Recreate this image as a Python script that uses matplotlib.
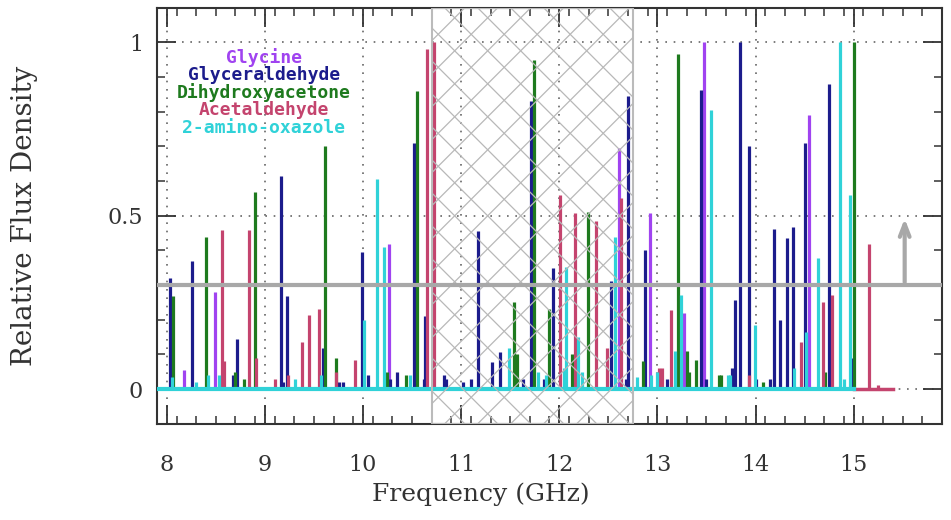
import matplotlib
matplotlib.use('Agg')
import matplotlib.pyplot as plt
import numpy as np
from matplotlib.patches import Rectangle

plt.rcParams['font.family'] = ['DejaVu Serif']

# 谱线数据：频率 (GHz) 与相对流量密度
glycine_f = [8.18, 8.49, 10.27, 12.61, 12.92, 13.27, 13.47, 14.55]
glycine_h = [0.055, 0.28, 0.42, 0.695, 0.508, 0.22, 1.0, 0.79]

glyceraldehyde_f = [8.03, 8.26, 8.68, 8.72, 9.16, 9.18, 9.23, 9.59, 9.76, 9.80, 9.99, 10.05,
                    10.28, 10.35, 10.52, 10.62, 10.635, 10.83, 10.85, 11.02, 11.10, 11.17,
                    11.31, 11.40, 11.63, 11.71, 11.84, 11.94, 12.53, 12.68, 12.70, 12.87,
                    13.10, 13.44, 13.50, 13.76, 13.79, 13.84, 13.93, 14.0, 14.15, 14.19,
                    14.25, 14.32, 14.38, 14.50, 14.75, 14.98]
glyceraldehyde_h = [0.32, 0.37, 0.04, 0.145, 0.615, 0.02, 0.27, 0.12, 0.02, 0.02, 0.395, 0.04,
                    0.03, 0.05, 0.71, 0.03, 0.21, 0.04, 0.03, 0.02, 0.03, 0.457,
                    0.077, 0.107, 0.03, 0.83, 0.03, 0.35, 0.313, 0.03, 0.845, 0.40,
                    0.03, 0.862, 0.03, 0.06, 0.257, 1.0, 0.70, 0.03, 0.03, 0.462,
                    0.198, 0.435, 0.467, 0.71, 0.879, 0.09]

dha_f = [8.06, 8.40, 8.70, 8.79, 8.90, 9.61, 9.72, 10.24, 10.44, 10.55, 11.54, 11.57,
         11.74, 11.90, 12.13, 12.29, 12.85, 13.21, 13.30, 13.32, 13.39, 13.63, 13.65,
         14.08, 14.71, 15.00]
dha_h = [0.27, 0.44, 0.05, 0.03, 0.57, 0.70, 0.09, 0.05, 0.04, 0.86, 0.25, 0.10,
         0.948, 0.23, 0.10, 0.51, 0.08, 0.968, 0.11, 0.05, 0.085, 0.04, 0.04,
         0.02, 0.05, 1.0]

acetaldehyde_f = [8.56, 8.58, 8.84, 8.91, 9.10, 9.24, 9.38, 9.45, 9.55, 9.72, 9.92,
                  10.65, 10.72, 12.01, 12.16, 12.37, 12.49, 12.63, 13.02, 13.05, 13.14,
                  13.93, 14.46, 14.69, 14.78, 15.16, 15.25]
acetaldehyde_h = [0.46, 0.08, 0.46, 0.09, 0.03, 0.04, 0.135, 0.215, 0.23, 0.05, 0.085,
                  0.98, 1.0, 0.56, 0.508, 0.484, 0.12, 0.55, 0.06, 0.06, 0.228,
                  0.04, 0.137, 0.252, 0.271, 0.42, 0.012]

oxazole_f = [8.05, 8.30, 8.42, 8.53, 9.31, 9.57, 10.01, 10.14, 10.21, 10.48, 11.49, 11.78,
             11.87, 12.05, 12.07, 12.19, 12.23, 12.57, 12.79, 12.94, 13.00, 13.18, 13.24,
             13.55, 13.72, 13.74, 13.99, 14.39, 14.51, 14.64, 14.86, 14.90, 14.96]
oxazole_h = [0.035, 0.02, 0.04, 0.04, 0.03, 0.04, 0.2, 0.607, 0.41, 0.04, 0.12, 0.05,
             0.04, 0.06, 0.353, 0.15, 0.05, 0.44, 0.035, 0.04, 0.05, 0.11, 0.272,
             0.806, 0.04, 0.04, 0.185, 0.06, 0.166, 0.378, 1.0, 0.03, 0.56]

names = ['Glycine', 'Glyceraldehyde', 'Dihydroxyacetone', 'Acetaldehyde', '2-amino-oxazole']
colors = ['#a043f0', '#1c1c8c', '#1e7a1e', '#c4446e', '#30d2d8']

fig = plt.figure(figsize=(9.51, 5.2), dpi=100)
ax = fig.add_axes([0.165, 0.185, 0.8255, 0.8])
xmin, xmax, ymin, ymax = 7.9, 15.9, -0.1, 1.1
ax.set_xlim(xmin, xmax)
ax.set_ylim(ymin, ymax)

# 网格线
for gx in range(8, 16):
    ax.axvline(gx, color='#666666', lw=1.2, ls=(0, (1, 4)), zorder=1)
for gy in [0, 0.5, 1.0]:
    ax.axhline(gy, color='#666666', lw=1.2, ls=(0, (1, 4)), zorder=1)

# 各分子谱线
series = [(glycine_f, glycine_h), (glyceraldehyde_f, glyceraldehyde_h), (dha_f, dha_h),
          (acetaldehyde_f, acetaldehyde_h), (oxazole_f, oxazole_h)]
for (f, h), c in zip(series, colors):
    ax.vlines(f, 0, h, color=c, lw=2.3, zorder=3)

# 基线
ax.plot([15.0, 15.4], [0, 0], color=colors[3], lw=2.5, zorder=3)
ax.plot([xmin, 15.0], [0, 0], color=colors[4], lw=3, zorder=4)

# 阴影区域
band_lo, band_hi = 10.7, 12.75
rect = Rectangle((band_lo, ymin), band_hi - band_lo, ymax - ymin, fill=False,
                 edgecolor='#bbbbbb', lw=1.5, zorder=5)
ax.add_patch(rect)
px_x = 0.8255 * 951 / (xmax - xmin)
px_y = 0.8 * 520 / (ymax - ymin)
step = 33 / px_x
span = (ymax - ymin) * px_y / px_x
for x0 in np.arange(band_lo - span, band_hi + span, step):
    for yy in ([ymin, ymax], [ymax, ymin]):
        ln, = ax.plot([x0, x0 + span], yy, color='#b8b8b8', lw=0.9, zorder=5)
        ln.set_clip_path(rect)

# 阈值线与箭头
ax.axhline(0.3, color='#a8a8a8', lw=3, zorder=6)
ax.annotate('', xy=(15.52, 0.5), xytext=(15.52, 0.3),
            arrowprops=dict(arrowstyle='->,head_length=0.9,head_width=0.35',
                            color='#a8a8a8', lw=3), zorder=6)

# 图例文字
leg_y = [0.957, 0.905, 0.855, 0.805, 0.752]
for name, c, yy in zip(names, colors, leg_y):
    ax.text(8.99, yy, name, color=c, ha='center', va='center', fontsize=13,
            fontweight='bold', family='DejaVu Sans Mono', zorder=7)

# 刻度
ax.set_xticks(range(8, 16))
ax.set_xticks(np.arange(7.9, 15.95, 0.2), minor=True)
ax.set_yticks([0, 0.5, 1])
ax.set_yticklabels(['0', '0.5', '1'])
ax.set_yticks(np.arange(-0.1, 1.15, 0.1), minor=True)
ax.tick_params(which='both', direction='in', top=True, right=True, colors='#333333',
               labelcolor='#333333', labelsize=16)
ax.tick_params(which='major', length=14, width=1.3)
ax.tick_params(which='minor', length=6, width=1.1)
ax.tick_params(axis='x', pad=22)
ax.tick_params(axis='y', pad=10)
for s in ax.spines.values():
    s.set_color('#333333')
    s.set_linewidth(1.5)

ax.set_xlabel('Frequency (GHz)', fontsize=18, color='#333333')
ax.set_ylabel('Relative Flux Density', fontsize=20, color='#333333')
ax.xaxis.set_label_coords(0.413, -0.142)
ax.yaxis.set_label_coords(-0.152, 0.5)

plt.savefig('out.png', dpi=100, facecolor='white')
